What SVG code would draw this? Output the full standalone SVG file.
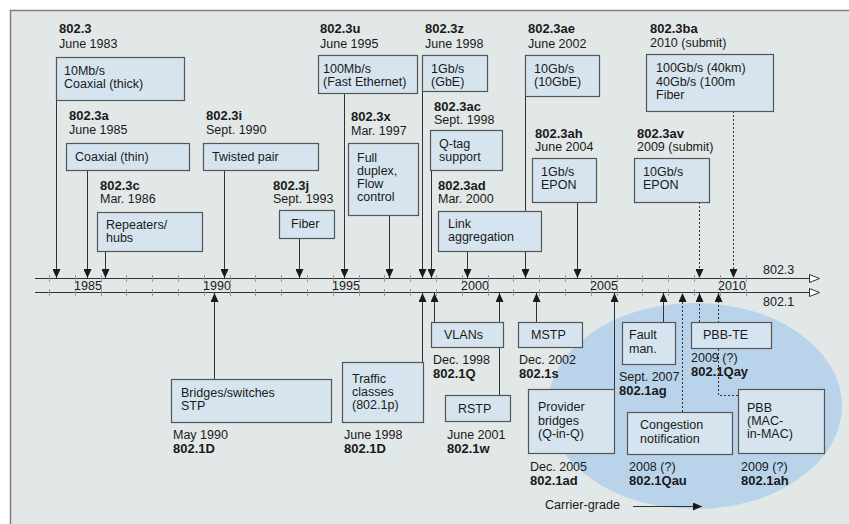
<svg xmlns="http://www.w3.org/2000/svg" width="849" height="524" viewBox="0 0 849 524">
<defs>
<style>
.t{font-family:"Liberation Sans",Arial,sans-serif;font-size:12.5px;fill:#1a1a1a}
.b{font-weight:bold;font-size:13px}
.box{fill:#d6e4ef;stroke:#555;stroke-width:1.2}
.ln{stroke:#333;stroke-width:1;fill:none}
.dt{stroke-dasharray:2,2}
.ax{stroke:#333;stroke-width:1;fill:none}
.tk{stroke:#999;stroke-width:1}
.yr{font-family:"Liberation Sans",Arial,sans-serif;font-size:12.5px;fill:#1a1a1a;text-anchor:middle}
</style>
<marker id="ah" viewBox="0 0 9 8" refX="9" refY="4" markerWidth="9" markerHeight="8" markerUnits="userSpaceOnUse" orient="auto">
<path d="M0,0 L9,4 L0,8 z" fill="#1a1a1a" stroke="none"/>
</marker>
<marker id="oh" viewBox="0 0 11 9" refX="1" refY="4.5" markerWidth="11" markerHeight="9" markerUnits="userSpaceOnUse" orient="auto">
<path d="M0.5,0.5 L10.5,4.5 L0.5,8.5 z" fill="#fff" stroke="#333" stroke-width="1"/>
</marker>
</defs>
<rect x="0" y="0" width="849" height="524" fill="#fff"/>
<rect x="10.5" y="10.5" width="839" height="514" fill="#e2e7e7"/>
<path d="M10.5,524 V10.5 H849" fill="none" stroke="#808080" stroke-width="1.5"/>
<ellipse cx="695" cy="406" rx="147" ry="103" fill="#b9d3ea"/>

<g id="axis">
<line class="ax" x1="35" y1="278.5" x2="810" y2="278.5" marker-end="url(#oh)"/>
<line class="ax" x1="35" y1="292.5" x2="810" y2="292.5" marker-end="url(#oh)"/>
<g class="tk">
<path d="M49.5,275v7M75.5,275v7M101.5,275v7M126.5,275v7M152.5,275v7M178.5,275v7M204.5,275v7M230.5,275v7M255.5,275v7M281.5,275v7M307.5,275v7M333.5,275v7M359.5,275v7M384.5,275v7M410.5,275v7M436.5,275v7M462.5,275v7M488.5,275v7M513.5,275v7M539.5,275v7M565.5,275v7M591.5,275v7M617.5,275v7M642.5,275v7M668.5,275v7M694.5,275v7M720.5,275v7M746.5,275v7"/>
<path d="M49.5,289v7M75.5,289v7M101.5,289v7M126.5,289v7M152.5,289v7M178.5,289v7M204.5,289v7M230.5,289v7M255.5,289v7M281.5,289v7M307.5,289v7M333.5,289v7M359.5,289v7M384.5,289v7M410.5,289v7M436.5,289v7M462.5,289v7M488.5,289v7M513.5,289v7M539.5,289v7M565.5,289v7M591.5,289v7M617.5,289v7M642.5,289v7M668.5,289v7M694.5,289v7M720.5,289v7M746.5,289v7"/>
</g>
<text class="yr" x="88" y="289.5">1985</text>
<text class="yr" x="217" y="289.5">1990</text>
<text class="yr" x="346" y="289.5">1995</text>
<text class="yr" x="475" y="289.5">2000</text>
<text class="yr" x="604" y="289.5">2005</text>
<text class="yr" x="732" y="289.5">2010</text>
<text class="t" x="763" y="274">802.3</text>
<text class="t" x="763" y="306">802.1</text>
</g>

<g id="connectors">
<path class="ln" d="M56.5,100V278" marker-end="url(#ah)"/>
<path class="ln" d="M87.5,170V278" marker-end="url(#ah)"/>
<path class="ln" d="M105.5,251V278" marker-end="url(#ah)"/>
<path class="ln" d="M224.5,170V278" marker-end="url(#ah)"/>
<path class="ln" d="M299.5,238V278" marker-end="url(#ah)"/>
<path class="ln" d="M344.5,93V278" marker-end="url(#ah)"/>
<path class="ln" d="M389.5,215V278" marker-end="url(#ah)"/>
<path class="ln" d="M422.5,91V278" marker-end="url(#ah)"/>
<path class="ln" d="M431.5,170V278" marker-end="url(#ah)"/>
<path class="ln" d="M467.5,251V278" marker-end="url(#ah)"/>
<path class="ln" d="M525.5,96V278" marker-end="url(#ah)"/>
<path class="ln" d="M577.5,202V278" marker-end="url(#ah)"/>
<path class="ln dt" d="M699.5,202V278" marker-end="url(#ah)"/>
<path class="ln dt" d="M733.5,111V278" marker-end="url(#ah)"/>

<path class="ln" d="M214.5,379V293" marker-end="url(#ah)"/>
<path class="ln" d="M422.5,362V293" marker-end="url(#ah)"/>
<path class="ln" d="M434.5,322V293" marker-end="url(#ah)"/>
<path class="ln" d="M499.5,395V293" marker-end="url(#ah)"/>
<path class="ln" d="M536.5,322V293" marker-end="url(#ah)"/>
<path class="ln" d="M614.5,389V293" marker-end="url(#ah)"/>
<path class="ln" d="M663.5,322V293" marker-end="url(#ah)"/>
<path class="ln dt" d="M682.5,412V293" marker-end="url(#ah)"/>
<path class="ln dt" d="M699.5,322V293" marker-end="url(#ah)"/>
<path class="ln dt" d="M738,395.5H718.5V293" marker-end="url(#ah)"/>

<path class="ln" d="M633,506.5H702" marker-end="url(#ah)"/>
</g>

<g id="n8023">
<text class="t b" x="59" y="33">802.3</text>
<text class="t" x="59" y="48">June 1983</text>
<rect class="box" x="56.5" y="57.5" width="128" height="43"/>
<text class="t" x="64" y="75">10Mb/s</text>
<text class="t" x="64" y="88">Coaxial (thick)</text>
</g>
<g id="n8023a">
<text class="t b" x="69" y="120">802.3a</text>
<text class="t" x="69" y="134">June 1985</text>
<rect class="box" x="66.5" y="143.5" width="123" height="27"/>
<text class="t" x="75" y="161">Coaxial (thin)</text>
</g>
<g id="n8023c">
<text class="t b" x="100" y="190">802.3c</text>
<text class="t" x="100" y="203">Mar. 1986</text>
<rect class="box" x="97.5" y="212.5" width="105" height="39"/>
<text class="t" x="106" y="229">Repeaters/</text>
<text class="t" x="106" y="242">hubs</text>
</g>
<g id="n8023i">
<text class="t b" x="206" y="120">802.3i</text>
<text class="t" x="206" y="134">Sept. 1990</text>
<rect class="box" x="203.5" y="143.5" width="115" height="27"/>
<text class="t" x="212" y="161">Twisted pair</text>
</g>
<g id="n8023j">
<text class="t b" x="273" y="190">802.3j</text>
<text class="t" x="273" y="203">Sept. 1993</text>
<rect class="box" x="279.5" y="210.5" width="55" height="28"/>
<text class="t" x="291" y="228">Fiber</text>
</g>
<g id="n8023u">
<text class="t b" x="320" y="33">802.3u</text>
<text class="t" x="320" y="48">June 1995</text>
<rect class="box" x="318.5" y="55.5" width="99" height="38"/>
<text class="t" x="323" y="73">100Mb/s</text>
<text class="t" x="323" y="86">(Fast Ethernet)</text>
</g>
<g id="n8023x">
<text class="t b" x="351" y="121">802.3x</text>
<text class="t" x="351" y="135">Mar. 1997</text>
<rect class="box" x="348.5" y="143.5" width="70" height="72"/>
<text class="t" x="357" y="162">Full</text>
<text class="t" x="357" y="175">duplex,</text>
<text class="t" x="357" y="188">Flow</text>
<text class="t" x="357" y="201">control</text>
</g>
<g id="n8023z">
<text class="t b" x="425" y="33">802.3z</text>
<text class="t" x="425" y="48">June 1998</text>
<rect class="box" x="422.5" y="55.5" width="65" height="36"/>
<text class="t" x="431" y="73">1Gb/s</text>
<text class="t" x="431" y="86">(GbE)</text>
</g>
<g id="n8023ac">
<text class="t b" x="434" y="111">802.3ac</text>
<text class="t" x="434" y="124">Sept. 1998</text>
<rect class="box" x="430.5" y="130.5" width="72" height="40"/>
<text class="t" x="439" y="148">Q-tag</text>
<text class="t" x="439" y="161">support</text>
</g>
<g id="n8023ad">
<text class="t b" x="438" y="190">802.3ad</text>
<text class="t" x="438" y="203">Mar. 2000</text>
<rect class="box" x="438.5" y="211.5" width="103" height="40"/>
<text class="t" x="448" y="228">Link</text>
<text class="t" x="448" y="241">aggregation</text>
</g>
<g id="n8023ae">
<text class="t b" x="528" y="33">802.3ae</text>
<text class="t" x="528" y="48">June 2002</text>
<rect class="box" x="525.5" y="55.5" width="74" height="41"/>
<text class="t" x="534" y="73">10Gb/s</text>
<text class="t" x="534" y="86">(10GbE)</text>
</g>
<g id="n8023ah">
<text class="t b" x="535" y="138">802.3ah</text>
<text class="t" x="535" y="151">June 2004</text>
<rect class="box" x="532.5" y="158.5" width="64" height="44"/>
<text class="t" x="541" y="176">1Gb/s</text>
<text class="t" x="541" y="189">EPON</text>
</g>
<g id="n8023av">
<text class="t b" x="637" y="138">802.3av</text>
<text class="t" x="637" y="151">2009 (submit)</text>
<rect class="box" x="634.5" y="158.5" width="75" height="44"/>
<text class="t" x="643" y="176">10Gb/s</text>
<text class="t" x="643" y="189">EPON</text>
</g>
<g id="n8023ba">
<text class="t b" x="650" y="33">802.3ba</text>
<text class="t" x="650" y="47">2010 (submit)</text>
<rect class="box" x="646.5" y="54.5" width="127" height="57"/>
<text class="t" x="656" y="72">100Gb/s (40km)</text>
<text class="t" x="656" y="85.5">40Gb/s (100m</text>
<text class="t" x="656" y="99">Fiber</text>
</g>

<g id="n8021D">
<rect class="box" x="171.5" y="379.5" width="160" height="43"/>
<text class="t" x="181" y="397">Bridges/switches</text>
<text class="t" x="181" y="410">STP</text>
<text class="t" x="173" y="439">May 1990</text>
<text class="t b" x="173" y="453">802.1D</text>
</g>
<g id="n8021p">
<rect class="box" x="342.5" y="362.5" width="81" height="60"/>
<text class="t" x="352" y="383">Traffic</text>
<text class="t" x="352" y="396">classes</text>
<text class="t" x="352" y="409">(802.1p)</text>
<text class="t" x="344" y="439">June 1998</text>
<text class="t b" x="344" y="453">802.1D</text>
</g>
<g id="n8021Q">
<rect class="box" x="431.5" y="322.5" width="72" height="25"/>
<text class="t" x="444" y="339">VLANs</text>
<text class="t" x="433" y="364">Dec. 1998</text>
<text class="t b" x="433" y="378">802.1Q</text>
</g>
<g id="n8021w">
<rect class="box" x="445.5" y="395.5" width="65" height="26"/>
<text class="t" x="458" y="413">RSTP</text>
<text class="t" x="447" y="439">June 2001</text>
<text class="t b" x="447" y="453">802.1w</text>
</g>
<g id="n8021s">
<rect class="box" x="518.5" y="322.5" width="64" height="25"/>
<text class="t" x="531" y="339">MSTP</text>
<text class="t" x="519" y="364">Dec. 2002</text>
<text class="t b" x="519" y="378">802.1s</text>
</g>
<g id="n8021ad">
<rect class="box" x="528.5" y="389.5" width="86" height="64"/>
<text class="t" x="538" y="411">Provider</text>
<text class="t" x="538" y="424.5">bridges</text>
<text class="t" x="538" y="438">(Q-in-Q)</text>
<text class="t" x="530" y="471">Dec. 2005</text>
<text class="t b" x="530" y="485">802.1ad</text>
</g>
<g id="n8021ag">
<rect class="box" x="622.5" y="322.5" width="53" height="42"/>
<text class="t" x="629" y="339">Fault</text>
<text class="t" x="629" y="353">man.</text>
<text class="t" x="619" y="381">Sept. 2007</text>
<text class="t b" x="619" y="395">802.1ag</text>
</g>
<g id="n8021Qau">
<rect class="box" x="627.5" y="412.5" width="105" height="42"/>
<text class="t" x="640" y="429">Congestion</text>
<text class="t" x="640" y="443">notification</text>
<text class="t" x="629" y="471">2008 (?)</text>
<text class="t b" x="629" y="485">802.1Qau</text>
</g>
<g id="n8021Qay">
<rect class="box" x="691.5" y="322.5" width="80" height="26"/>
<text class="t" x="703" y="339">PBB-TE</text>
<text class="t" x="691" y="362">2009 (?)</text>
<text class="t b" x="691" y="376">802.1Qay</text>
</g>
<g id="n8021ah">
<rect class="box" x="738.5" y="389.5" width="86" height="64"/>
<text class="t" x="747" y="412">PBB</text>
<text class="t" x="747" y="425">(MAC-</text>
<text class="t" x="747" y="438">in-MAC)</text>
<text class="t" x="741" y="471">2009 (?)</text>
<text class="t b" x="741" y="485">802.1ah</text>
</g>
<g id="carrier">
<text class="t" x="545" y="509" font-size="13" textLength="75" lengthAdjust="spacingAndGlyphs">Carrier-grade</text>
</g>
</svg>
